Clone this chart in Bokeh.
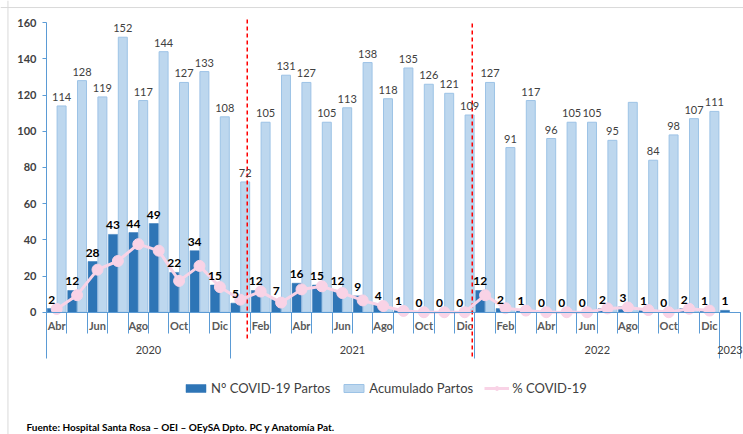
from bokeh.plotting import figure
from bokeh.models import (ColumnDataSource, Range1d, LinearAxis, FixedTicker,
                          Legend, LegendItem, Span)
from bokeh.core.properties import value
from bokeh.embed import file_html
from bokeh.resources import INLINE

# ---------------- data ----------------
months = ["Abr", "May", "Jun", "Jul", "Ago", "Sep", "Oct", "Nov", "Dic",
          "Ene", "Feb", "Mar", "Abr", "May", "Jun", "Jul", "Ago", "Sep", "Oct", "Nov", "Dic",
          "Ene", "Feb", "Mar", "Abr", "May", "Jun", "Jul", "Ago", "Sep", "Oct", "Nov", "Dic",
          "Ene"]
years = ["2020", "2021", "2022", "2023"]
year_months = [9, 12, 12, 1]

covid_partos = [2, 12, 28, 43, 44, 49, 22, 34, 15,
                5, 12, 7, 16, 15, 12, 9, 4, 1, 0, 0, 0,
                12, 2, 1, 0, 0, 0, 2, 3, 1, 0, 2, 1,
                1]
acumulado_partos = [114, 128, 119, 152, 117, 144, 127, 133, 108,
                    72, 105, 131, 127, 105, 113, 138, 118, 135, 126, 121, 109,
                    127, 91, 117, 96, 105, 105, 95, 116, 84, 98, 107, 111,
                    None]
pct_covid = [1.8, 9.4, 23.5, 28.3, 37.6, 34.0, 17.3, 25.6, 13.9,
             6.9, 11.4, 5.3, 12.6, 14.3, 10.6, 6.5, 3.4, 0.7, 0.0, 0.0, 0.0,
             9.4, 2.2, 0.9, 0.0, 0.0, 0.0, 2.1, 2.6, 1.2, 0.0, 1.9, 0.9,
             None]
acum_unlabeled = [28]          # Ago 2022 bar carries no data label
y_ticks = [0, 20, 40, 60, 80, 100, 120, 140, 160]
event_lines = [9.34, 20.37]     # red dashed markers

# ---------------- styling ----------------
FONT = "Lato"
DARK = "#2E75B6"
LIGHT = "#BDD7EE"
LIGHT_EDGE = "#9DC3E6"
PINK = "#F9D3E6"
AX = "#5B9BD5"
TXT = "#404040"

n = len(months)
xs = list(range(n))
nan = float("nan")
acum_vals = [nan if v is None else v for v in acumulado_partos]
pct_vals = [nan if v is None else v for v in pct_covid]

src = ColumnDataSource(dict(
    x=xs,
    xd=[i - 0.24 for i in xs],
    xl=[i + 0.24 for i in xs],
    covid=covid_partos,
    acum=acum_vals,
    pct=pct_vals,
    covid_txt=[str(v) for v in covid_partos],
    acum_txt=["" if (v is None or i in acum_unlabeled) else str(v)
              for i, v in enumerate(acumulado_partos)],
))

W, H = 743, 434
p = figure(width=W, height=H, x_range=Range1d(-2.755, 33.667),
           y_range=Range1d(-67.61, 172.30), x_axis_type=None, y_axis_type=None,
           toolbar_location=None, output_backend="svg", min_border=0,
           outline_line_color=None, background_fill_color="white",
           border_fill_color="white")

# outer chart border (top & left visible)
p.add_layout(Span(location=168.4, dimension="width", line_color="#D9D9D9", line_width=1))
p.add_layout(Span(location=-2.39, dimension="height", line_color="#D9D9D9", line_width=1))

light = p.vbar(x="xl", top="acum", width=0.44, source=src, fill_color=LIGHT,
               line_color=LIGHT_EDGE, line_width=1)
dark = p.vbar(x="xd", top="covid", width=0.44, source=src, fill_color=DARK,
              line_color=DARK, line_width=0.5)

# red dashed event lines
p.segment(x0=event_lines, x1=event_lines, y0=[-14.5, -24.5], y1=[162.6, 159.9],
          line_color="#FF0000", line_dash="4 3", line_width=1.5)

ln = p.line(x="x", y="pct", source=src, line_color=PINK, line_width=3)
sc = p.scatter(x="x", y="pct", source=src, size=11, fill_color=PINK, line_color=PINK)

# data labels
p.text(x="xl", y="acum", text="acum_txt", source=src, text_align="center",
       text_baseline="alphabetic", y_offset=-9, text_font=value(FONT),
       text_font_size="11px", text_color=TXT)
p.text(x="xd", y="covid", text="covid_txt", source=src, text_align="center",
       text_baseline="alphabetic", y_offset=-9, text_font=value(FONT),
       text_font_size="12px", text_font_style="bold", text_color="black")


def base_axis(**kw):
    opts = dict(major_tick_in=0, minor_tick_in=0, minor_tick_out=0,
                minor_tick_line_color=None, major_label_text_font=FONT)
    opts.update(kw)
    return LinearAxis(**opts)


# y axis
yax = base_axis(fixed_location=-0.5, bounds=(0, 160),
                ticker=FixedTicker(ticks=y_ticks, minor_ticks=[]),
                axis_line_color=AX, major_tick_line_color=AX, major_tick_out=4,
                major_label_standoff=6, major_label_text_font_size="11px",
                major_label_text_font_style="bold", major_label_text_color=TXT)
p.add_layout(yax, "left")

# month labels
label_ticks = [i for i in xs if i % 2 == 0 and i < n - 1]
x_month = base_axis(fixed_location=0, bounds=(-0.5, n - 0.5),
                    ticker=FixedTicker(ticks=label_ticks, minor_ticks=[]),
                    axis_line_color=AX, major_tick_line_color=None, major_tick_out=0,
                    major_label_standoff=7,
                    major_label_overrides={i: months[i] for i in label_ticks},
                    major_label_text_font_size="11px",
                    major_label_text_font_style="bold", major_label_text_color="#595959")
p.add_layout(x_month, "below")

# month boundary ticks
month_bounds = [i - 0.5 for i in range(n + 1)]
x_mticks = base_axis(fixed_location=0, bounds=(-0.5, n - 0.5),
                     ticker=FixedTicker(ticks=month_bounds, minor_ticks=[]),
                     axis_line_color=None, major_tick_line_color=AX, major_tick_out=21,
                     major_label_text_alpha=0, major_label_text_font_size="1px")
p.add_layout(x_mticks, "below")

# year separators and labels
year_bounds = [-0.5]
for c in year_months:
    year_bounds.append(year_bounds[-1] + c)
year_pos = [(year_bounds[k] + year_bounds[k + 1]) / 2 for k in range(len(years))]
year_pos[0] += 0.5
x_ysep = base_axis(fixed_location=0, bounds=(-0.5, n - 0.5),
                   ticker=FixedTicker(ticks=year_bounds, minor_ticks=[]),
                   axis_line_color=None, major_tick_line_color=AX, major_tick_out=46,
                   major_label_text_alpha=0, major_label_text_font_size="1px")
p.add_layout(x_ysep, "below")
x_year = base_axis(fixed_location=0, bounds=(-0.5, n - 0.5),
                   ticker=FixedTicker(ticks=year_pos, minor_ticks=[]),
                   axis_line_color=None, major_tick_line_color=None, major_tick_out=0,
                   major_label_standoff=34,
                   major_label_overrides={year_pos[k]: years[k] for k in range(len(years))},
                   major_label_text_font_size="11px", major_label_text_color=TXT)
p.add_layout(x_year, "below")

legend = Legend(items=[LegendItem(label="N° COVID-19 Partos", renderers=[dark]),
                       LegendItem(label="Acumulado Partos", renderers=[light]),
                       LegendItem(label="% COVID-19", renderers=[ln, sc])],
                orientation="horizontal", location=(183, 38), glyph_width=25,
                glyph_height=10, label_standoff=3, spacing=11, padding=0, margin=0,
                border_line_color=None, background_fill_alpha=0, label_height=16,
                label_text_font=FONT, label_text_font_size="13px",
                label_text_color=TXT)
p.add_layout(legend)

p.text(x=[-1.48], y=[-63.2],
       text=["Fuente: Hospital Santa Rosa \u2013 OEI \u2013 OEySA  Dpto. PC y Anatom\u00eda Pat."],
       text_align="left", text_baseline="alphabetic", text_font=value(FONT),
       text_font_size="10px", text_font_style="bold", text_color="black")

open("out.html", "w").write(file_html(p, INLINE))
